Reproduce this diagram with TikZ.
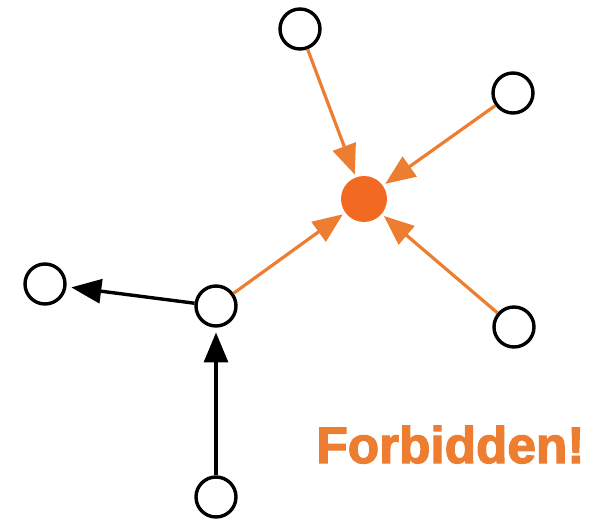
\documentclass[tikz,border=0pt]{standalone}
\usepackage{fontspec}
\setmainfont{Liberation Sans}
\newfontfamily\heavyfont[BoldFeatures={FakeBold=2.5}]{Liberation Sans}
\usetikzlibrary{arrows.meta}
\usepackage{xcolor}
\definecolor{warn-orange}{RGB}{237,125,49}
\definecolor{root-orange}{RGB}{242,106,33}

\begin{document}
\begin{tikzpicture}[
  >={Triangle[length=0.75cm, width=0.6cm]},
  % Node styles
  vertex/.style = {circle, draw=black, fill=white, line width=0.085cm,
                   minimum size=1cm, inner sep=0pt},
  root/.style   = {circle, fill=root-orange, minimum size=1.15cm, inner sep=0pt},
  % Arrow styles
  okarrow/.style  = {->, line width=0.085cm, black, shorten >=0.12cm},
  badarrow/.style = {->, line width=0.08cm, warn-orange, shorten >=0.07cm},
]
\useasboundingbox (0,0) rectangle (15.325,13.1);

% ── Nodes ──────────────────────────────────────────────────────────────────────
\node[root]   (r)  at (9.1, 8.125) {};
\node[vertex] (n1) at (7.5, 12.375) {};
\node[vertex] (n2) at (12.825, 10.775) {};
\node[vertex] (n3) at (12.85, 4.925) {};
\node[vertex] (v)  at (5.4, 5.45) {};
\node[vertex] (w)  at (1.125, 6.0) {};
\node[vertex] (u)  at (5.4, 0.675) {};

% ── Arrows ─────────────────────────────────────────────────────────────────────
\draw[badarrow] (n1) -- (r);
\draw[badarrow] (n2) -- (r);
\draw[badarrow] (n3) -- (r);
\draw[badarrow] (v) -- (r);

\draw[okarrow] (v) -- (w);
\draw[okarrow] (u) -- (v);

% ── Label ──────────────────────────────────────────────────────────────────────
\node[anchor=base, text=warn-orange, font=\heavyfont\fontsize{36.5}{40}\selectfont\bfseries,
      inner sep=0pt] (msg) at (11.26, 1.525) {Forbidden!};

\end{tikzpicture}
\end{document}
